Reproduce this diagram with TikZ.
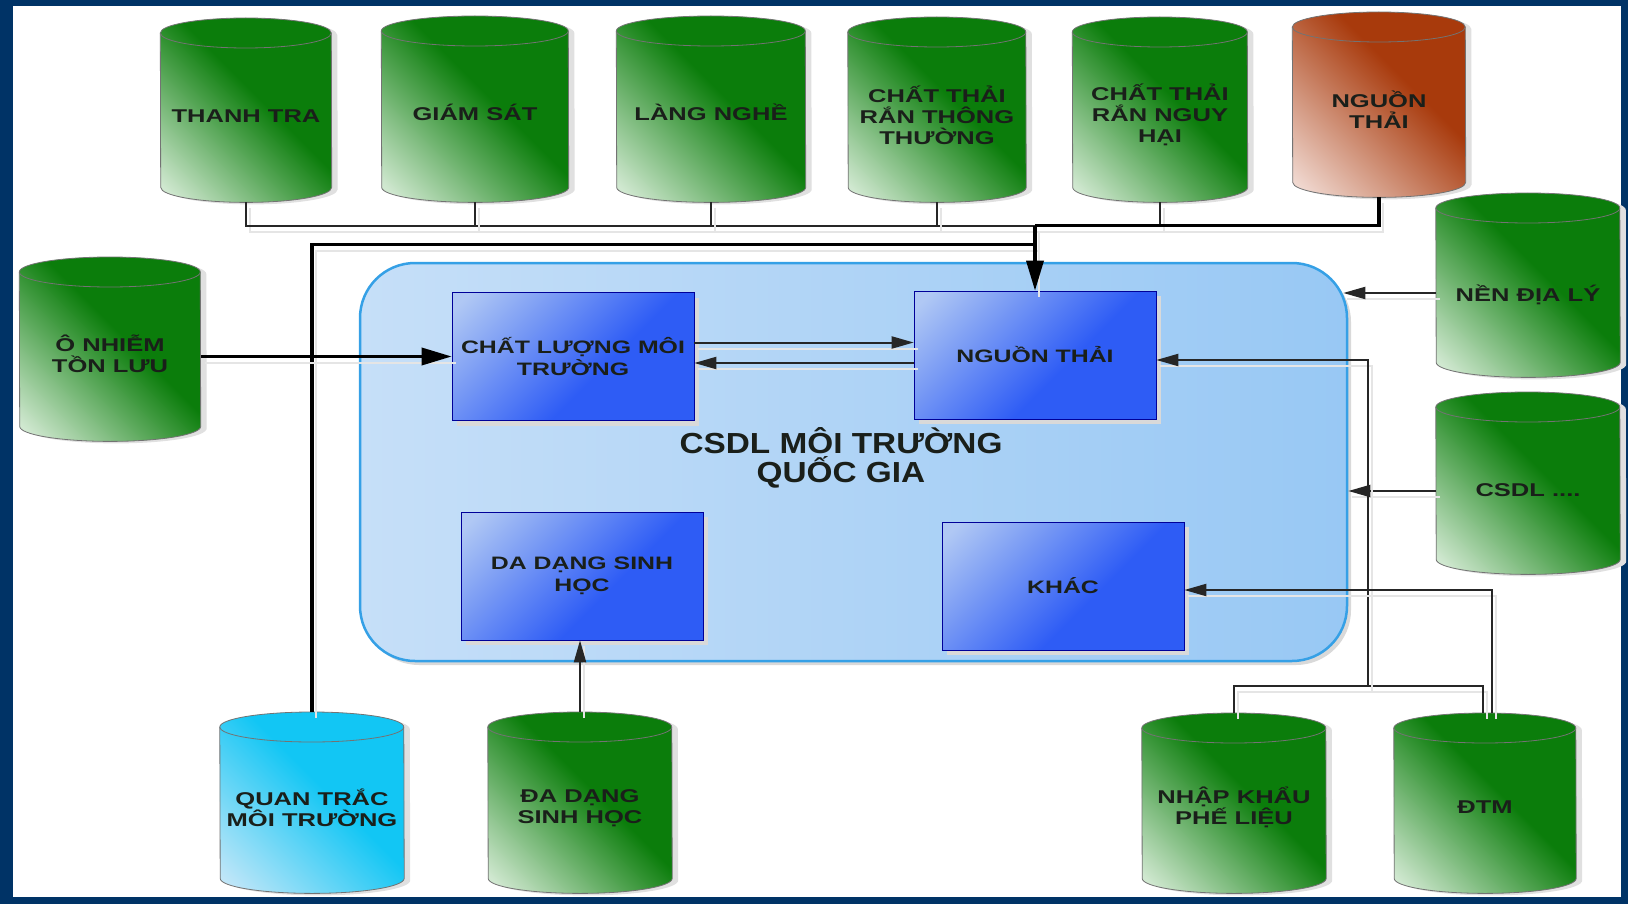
\documentclass[tikz,border=0pt]{standalone}
\usepackage{fontspec}
\setmainfont{Liberation Sans}
\newfontfamily\lblfont[FakeStretch=1.38]{Liberation Sans Bold}
\newfontfamily\ttlfont[FakeStretch=1.15]{Liberation Sans Bold}
\usetikzlibrary{shapes.geometric,arrows.meta,calc,shadows}
\definecolor{navy}{HTML}{003366}
\definecolor{gdark}{HTML}{0B7D0B}
\definecolor{glight}{HTML}{D0E8D0}
\definecolor{bdark}{HTML}{A83A0C}
\definecolor{blight}{HTML}{F0D8D0}
\definecolor{cdark}{HTML}{12C6F4}
\definecolor{clight}{HTML}{C0E6F8}
\definecolor{boxdark}{HTML}{2E5CF5}
\definecolor{boxlight}{HTML}{B0C8F4}
\definecolor{panelL}{HTML}{C6DFF8}
\definecolor{panelR}{HTML}{98C8F4}
\definecolor{panelB}{HTML}{35A0E6}
\definecolor{txt}{HTML}{1A1F1A}
\pgfdeclareverticalshading{greencyl}{100bp}{color(0bp)=(glight); color(18bp)=(glight); color(55bp)=(gdark); color(100bp)=(gdark)}
\pgfdeclareverticalshading{browncyl}{100bp}{color(0bp)=(blight); color(18bp)=(blight); color(60bp)=(bdark); color(100bp)=(bdark)}
\pgfdeclareverticalshading{cyancyl}{100bp}{color(0bp)=(clight); color(18bp)=(clight); color(55bp)=(cdark); color(100bp)=(cdark)}
\pgfdeclareverticalshading{bluebox}{100bp}{color(0bp)=(boxdark); color(42bp)=(boxdark); color(82bp)=(boxlight); color(100bp)=(boxlight)}
\pgfdeclarehorizontalshading{panelsh}{100bp}{color(0bp)=(panelL); color(25bp)=(panelL); color(75bp)=(panelR); color(100bp)=(panelR)}
\tikzset{
  cylbox/.style={rectangle, inner sep=0pt, anchor=north},
  cylline/.style={draw=black!55, line width=0.8pt},
  cyltxt/.style={inner sep=0pt, text=txt, align=center, font=\lblfont\fontsize{18.5}{21}\selectfont},
  panel/.style={rectangle, rounded corners=55pt, draw=panelB, line width=2.5pt, shade, shading=panelsh,
    minimum width=987pt, minimum height=398pt,
    drop shadow={shadow xshift=4pt, shadow yshift=-4pt, fill=black!15, opacity=1}},
  bbox/.style={rectangle, draw=blue!60!black, line width=0.6pt, shade, shading=bluebox, shading angle=45,
    minimum width=242pt, minimum height=128pt, inner sep=2pt, align=center, text=txt,
    font=\lblfont\fontsize{18}{21.5}\selectfont,
    drop shadow={shadow xshift=5pt, shadow yshift=-5pt, fill=black!15, opacity=1}},
  ttl/.style={align=center, text=txt, font=\ttlfont\fontsize{29}{28.5}\selectfont},
  lshadow/.style={preaction={draw=black!10, -, line width=2pt, transform canvas={shift={(4pt,-6pt)}}}},
  thinl/.style={lshadow, draw=black!85, line width=2pt},
  thickl/.style={lshadow, draw=black, line width=3.5pt},
  tip/.style={-{Triangle[length=22pt,width=12pt]}},
  bigtip/.style={-{Triangle[length=30pt,width=17pt]}},
}
\newcommand\cylry{15}
\newcommand\cylout[2]{(#1.north west) ++(0,\cylry) arc[start angle=180,end angle=0,x radius=#2pt,y radius=\cylry pt] -- ($(#1.south east)+(0,-\cylry)$) arc[start angle=0,end angle=-180,x radius=#2pt,y radius=\cylry pt] -- cycle}
\newcommand\mkcyl[6]{%
  \node[cylbox, minimum width=#5pt, minimum height=#6pt] (#1) at (#3,#4) {};
  \pgfmathsetmacro\cylrx{#5/2}
  \fill[black!12, transform canvas={shift={(6pt,-2pt)}}] \cylout{#1}{\cylrx};
  \shade[shading=#2, shading angle=-45] \cylout{#1}{\cylrx};
  \draw[cylline] \cylout{#1}{\cylrx};
  \draw[cylline] (#1.north west) ++(0,\cylry) arc[start angle=180,end angle=360,x radius=\cylrx pt,y radius=\cylry pt];
}
\begin{document}
\begin{tikzpicture}[x=1pt,y=-1pt]
\useasboundingbox (0,0) rectangle (1628,904);
\fill[navy] (0,0) rectangle (1628,904);
\fill[white] (13,6) rectangle (1621,897);

% central panel
\node[panel] (panel) at (853.5,462) {};
\node[ttl] (title) at (841,458) {CSDL MÔI TRƯỜNG\\QUỐC GIA};

% inner boxes
\node[bbox] (clbox) at (573,356.5) {CHẤT LƯỢNG MÔI\\TRƯỜNG};
\node[bbox] (ntbox) at (1035,355) {NGUỒN THẢI};
\node[bbox] (ddbox) at (582,576) {DA DẠNG SINH\\HỌC};
\node[bbox] (khac) at (1063,586) {KHÁC};

% cylinders: name, shading, x, top, width, height
\mkcyl{thanh}{greencyl}{246}{18}{171}{184}
\mkcyl{giam}{greencyl}{475}{16}{187}{186}
\mkcyl{lang}{greencyl}{711}{16}{189}{186}
\mkcyl{ctrtt}{greencyl}{937}{17}{178}{185}
\mkcyl{ctrnh}{greencyl}{1160}{17}{175}{185}
\mkcyl{nguonC}{browncyl}{1379}{12}{173}{185}
\mkcyl{nen}{greencyl}{1528}{193}{184}{184}
\mkcyl{csdl}{greencyl}{1528}{392}{184}{182}
\mkcyl{onhiem}{greencyl}{110}{257}{181}{184}
\mkcyl{qt}{cyancyl}{312}{712}{184}{181}
\mkcyl{ddsh}{greencyl}{580}{712}{184}{181}
\mkcyl{nk}{greencyl}{1234}{713}{184}{180}
\mkcyl{dtm}{greencyl}{1485}{713}{182}{180}

% cylinder labels
\node[cyltxt] (thanhT) at ($(thanh.north)+(0,98)$) {THANH TRA};
\node[cyltxt] (giamT) at ($(giam.north)+(0,96)$) {GIÁM SÁT};
\node[cyltxt] (langT) at ($(lang.north)+(0,96)$) {LÀNG NGHỀ};
\node[cyltxt] (ctrttT) at ($(ctrtt.north)+(0,98)$) {CHẤT THẢI\\RẮN THÔNG\\THƯỜNG};
\node[cyltxt] (ctrnhT) at ($(ctrnh.north)+(0,98)$) {CHẤT THẢI\\RẮN NGUY\\HẠI};
\node[cyltxt] (nguonCT) at ($(nguonC.north)+(0,98)$) {NGUỒN\\THẢI};
\node[cyltxt] (nenT) at ($(nen.north)+(0,102)$) {NỀN ĐỊA LÝ};
\node[cyltxt] (csdlT) at ($(csdl.north)+(0,98)$) {CSDL ....};
\node[cyltxt] (onhiemT) at ($(onhiem.north)+(0,97)$) {Ô NHIỄM\\TỒN LƯU};
\node[cyltxt] (qtT) at ($(qt.north)+(0,96)$) {QUAN TRẮC\\MÔI TRƯỜNG};
\node[cyltxt] (ddshT) at ($(ddsh.north)+(0,96)$) {ĐA DẠNG\\SINH HỌC};
\node[cyltxt] (nkT) at ($(nk.north)+(0,94)$) {NHẬP KHẨU\\PHẾ LIỆU};
\node[cyltxt] (dtmT) at ($(dtm.north)+(0,94)$) {ĐTM};

% junction coordinates
\coordinate (jn) at ($(ntbox.north)+(0,-65)$);
\coordinate (jn2) at ($(ntbox.north)+(0,-46)$);

% top bus
\draw[thinl] (thanh.south) |- (jn);
\draw[thinl] (giam.south) -- (giam.south |- jn);
\draw[thinl] (lang.south) -- (lang.south |- jn);
\draw[thinl] (ctrtt.south) -- (ctrtt.south |- jn);
\draw[thinl] (ctrnh.south) -- (ctrnh.south |- jn);
\draw[thickl] (nguonC.south) |- (jn);
\draw[thickl] (qt.north) |- (jn2);
\draw[thickl, bigtip] (jn) -- (ntbox.north);

% left input
\draw[thickl, bigtip] (onhiem.east |- clbox.west) -- (clbox.west);

% between boxes
\coordinate (a1) at ($(clbox.east)+(0,-14)$);
\coordinate (a2) at ($(ntbox.west)+(0,8)$);
\draw[thinl, tip] (a1) -- (a1 -| ntbox.west);
\draw[thinl, tip] (a2) -- (a2 -| clbox.east);

% right inputs
\coordinate (n1) at ($(nen.north)+(0,100)$);
\coordinate (c1) at ($(csdl.north)+(0,99)$);
\draw[thinl, tip] (n1 -| nen.west) -- ($(n1 -| panel.east)+(-5,0)$);
\draw[thinl, tip] (c1 -| csdl.west) -- (c1 -| panel.east);

% bottom right
\coordinate (vb) at ($(nk.north)+(134,-27)$);
\draw[thinl] (nk.north) |- ($(dtm.north)+(-2,-27)$) -- ($(dtm.north)+(-2,0)$);
\draw[thinl, tip] (vb) |- ($(ntbox.east)+(0,5)$);
\draw[thinl, tip] ($(dtm.north)+(7,0)$) |- ($(khac.east)+(0,4)$);

% bottom middle
\draw[thinl, tip] (ddsh.north) -- (ddsh.north |- ddbox.south);
\end{tikzpicture}
\end{document}
